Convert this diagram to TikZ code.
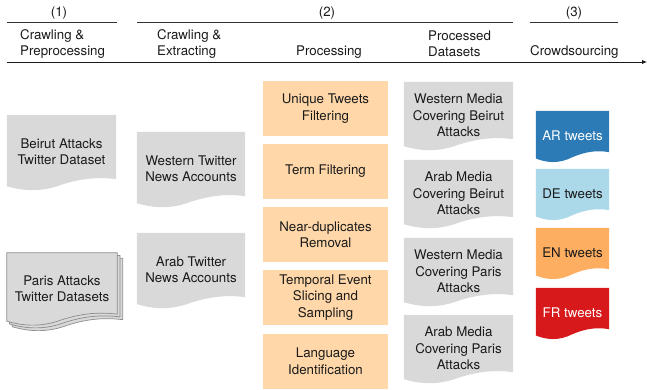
\documentclass[tikz,border=0pt]{standalone}
\usepackage{fontspec}
\setmainfont{TeX Gyre Heros}
\usetikzlibrary{calc,backgrounds,arrows.meta}

\definecolor{docgray}{HTML}{D9D9D9}
\definecolor{sheetedge}{HTML}{8C8C8C}
\definecolor{peach}{HTML}{FFD7A8}
\definecolor{arblue}{HTML}{2C7BB6}
\definecolor{delight}{HTML}{ABD9E9}
\definecolor{enorange}{HTML}{FDAE61}
\definecolor{frred}{HTML}{D7191C}
\definecolor{ink}{HTML}{1A1A1A}
\definecolor{rule}{HTML}{333333}

% height of the wave on the bottom edge of a page shape
\newdimen\wavedy \wavedy=10pt

% page shape with a wavy bottom edge, filled behind node #2 with colour #3
\newcommand\wavefill[3][]{%
  \path[fill=#3,#1] let \p1=(#2.north west), \p2=(#2.south east), \n1={\x2-\x1} in
    (\x1,\y1) -- (\x2,\y1) -- (\x2,{\y2+\wavedy})
    .. controls ({\x1+0.83*\n1},{\y2+1.25*\wavedy}) and ({\x1+0.67*\n1},{\y2+1.05*\wavedy})
    .. ({\x1+0.5*\n1},{\y2+0.45*\wavedy})
    .. controls ({\x1+0.33*\n1},{\y2-0.25*\wavedy}) and ({\x1+0.17*\n1},{\y2-0.25*\wavedy})
    .. (\x1,{\y2+0.3*\wavedy}) -- cycle;}

\tikzset{
  txt/.style={font=\fontsize{13.3}{16.5}\selectfont, text=ink, align=center, inner sep=0pt},
  headtxt/.style={txt, align=left},
  headrule/.style={draw=rule, line width=1pt},
  srcdoc/.style={txt, minimum width=109pt, minimum height=74pt},
  parisdoc/.style={txt, minimum width=110pt, minimum height=71pt},
  stepbox/.style={txt, fill=peach, minimum width=125pt, minimum height=55pt},
  outdoc/.style={txt, minimum width=109pt, minimum height=67pt},
  langdoc/.style={txt, minimum width=73pt, minimum height=50pt},
  sheet/.style={draw=sheetedge, line width=0.7pt},
}

\begin{document}
\begin{tikzpicture}[x=1pt,y=-1pt]
\useasboundingbox (0,0) rectangle (647,390);

% ---- phase header ----
\node[txt] (ph1) at (59,13) {(1)};
\node[txt] (ph2) at (327,13) {(2)};
\node[txt] (ph3) at (574,13) {(3)};
\coordinate (r1a) at (7,23);   \coordinate (r1b) at (117,23);
\coordinate (r2a) at (137,23); \coordinate (r2b) at (513,23);
\coordinate (r3a) at (530,23); \coordinate (r3b) at (618,23);
\draw[headrule] (r1a) -- (r1b);
\draw[headrule] (r2a) -- (r2b);
\draw[headrule] (r3a) -- (r3b);

\node[headtxt, anchor=west] (hcp) at (20,44) {Crawling \&\\Preprocessing};
\node[headtxt, anchor=west] (hce) at (157,44) {Crawling \&\\Extracting};
\node[txt] (hpr) at (329,52) {Processing};
\node[headtxt, anchor=west] (hpd) at (428,44) {Processed\\Datasets};
\node[headtxt, anchor=west] (hcs) at (530,52) {Crowdsourcing};

\coordinate (tl0) at (7,62);
\coordinate (tl1) at (647,62);
\draw[draw=ink, line width=0.9pt, -{Latex[length=5pt,width=4.5pt]}] (tl0) -- (tl1);

% ---- source datasets ----
\node[srcdoc] (beirut) at (61.5,152) {Beirut Attacks\\Twitter Dataset};
\node[parisdoc] (paris) at (62,288.5) {Paris Attacks\\Twitter Datasets};
% the two sheets stacked behind the Paris dataset
\node[parisdoc] (parisB) at ($(paris)+(2.75,2.75)$) {};
\node[parisdoc] (parisC) at ($(paris)+(5.5,5.5)$) {};

% ---- news accounts ----
\node[srcdoc, minimum width=108pt] (western) at (191,169) {Western Twitter\\News Accounts};
\node[srcdoc, minimum width=108pt] (arab) at (191,270) {Arab Twitter\\News Accounts};

% ---- processing steps ----
\node[stepbox] (unique) at (325.5,108.5) {Unique Tweets\\Filtering};
\node[stepbox] (term) at (325.5,171.5) {Term Filtering};
\node[stepbox] (neardup) at (325.5,234.5) {Near-duplicates\\Removal};
\node[stepbox] (slicing) at (325.5,297.5) {Temporal Event\\Slicing and\\Sampling};
\node[stepbox] (langid) at (325.5,361) {Language\\Identification};

% ---- processed datasets ----
\node[outdoc] (wb) at (458.5,115.5) {Western Media\\Covering Beirut\\Attacks};
\node[outdoc] (ab) at (458.5,193.5) {Arab Media\\Covering Beirut\\Attacks};
\node[outdoc] (wp) at (458.5,271.5) {Western Media\\Covering Paris\\Attacks};
\node[outdoc] (ap) at (458.5,348.5) {Arab Media\\Covering Paris\\Attacks};

% ---- crowdsourcing batches ----
\node[langdoc, text=white] (ar) at (572.5,136) {AR tweets};
\node[langdoc] (de) at (572.5,194) {DE tweets};
\node[langdoc] (en) at (572.5,253) {EN tweets};
\node[langdoc, text=white] (fr) at (572.5,313) {FR tweets};

% ---- page shapes behind the texts ----
\begin{pgfonlayer}{background}
  \wavefill{beirut}{docgray}
  \wavefill[sheet]{parisC}{docgray}
  \wavefill[sheet]{parisB}{docgray}
  \wavefill[sheet]{paris}{docgray}
  \wavefill{western}{docgray}
  \wavefill{arab}{docgray}
  \wavefill{wb}{docgray}
  \wavefill{ab}{docgray}
  \wavefill{wp}{docgray}
  \wavefill{ap}{docgray}
  \wavedy=9pt
  \wavefill{ar}{arblue}
  \wavefill{de}{delight}
  \wavefill{en}{enorange}
  \wavefill{fr}{frred}
\end{pgfonlayer}
\end{tikzpicture}
\end{document}
